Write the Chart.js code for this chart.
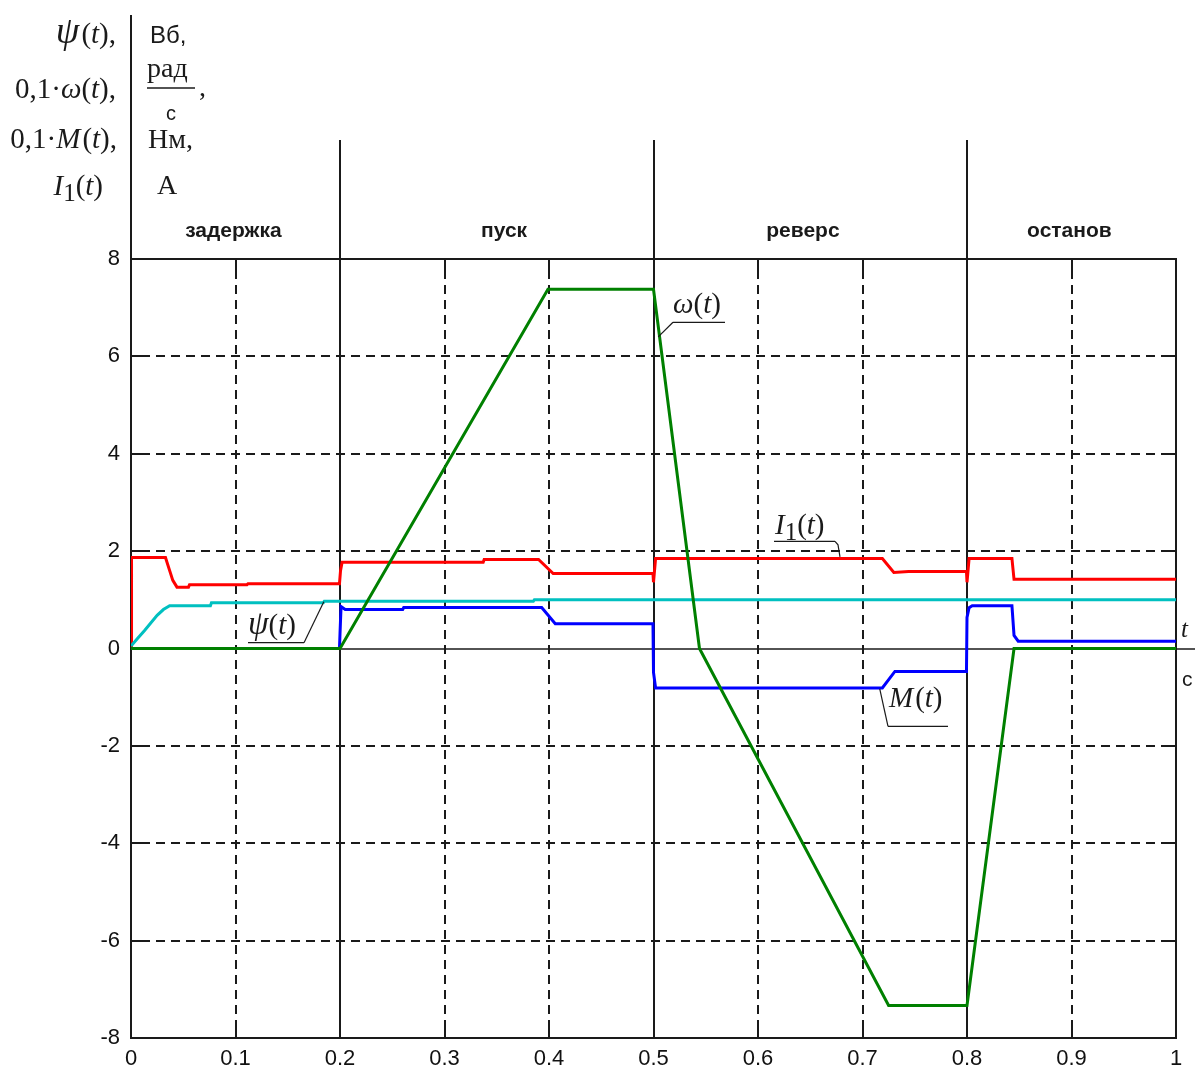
<!DOCTYPE html>
<html>
<head>
<meta charset="utf-8">
<script src="https://cdn.jsdelivr.net/npm/chart.js@4/dist/chart.umd.min.js"></script>
<style>
  html, body { margin: 0; padding: 0; background: #fff; }
  canvas { display: block; }
</style>
</head>
<body>
<canvas id="c" width="1195" height="1072"></canvas>
<script>
// Axis ticks
const xTicks = [0, 0.1, 0.2, 0.3, 0.4, 0.5, 0.6, 0.7, 0.8, 0.9, 1];
const yTicks = [-8, -6, -4, -2, 0, 2, 4, 6, 8];
// Boundaries of the operating stages (solid vertical lines)
const stageEdges = [0.2, 0.5, 0.8];
const stageNames = ['задержка', 'пуск', 'реверс', 'останов'];
const stageCentres = [0.098, 0.357, 0.643, 0.898];

// Flux linkage psi(t), Wb
const psiT = [0, 0.006, 0.013, 0.025, 0.031, 0.037, 0.076, 0.077, 0.184, 0.185, 0.385, 0.386, 1];
const psiV = [0.05, 0.2, 0.37, 0.68, 0.8, 0.88, 0.88, 0.94, 0.94, 0.97, 0.97, 1.0, 1.0];

// 0.1 * omega(t), rad/s
const omegaT = [0, 0.2, 0.399, 0.5, 0.544, 0.725, 0.8, 0.845, 1];
const omegaV = [0, 0, 7.38, 7.38, 0, -7.33, -7.33, 0, 0];

// 0.1 * M(t), N*m
const torqueT = [0, 0.1995, 0.2, 0.201, 0.205, 0.26, 0.261, 0.393, 0.406, 0.4995, 0.5, 0.502, 0.719, 0.731, 0.7995, 0.8, 0.802, 0.805, 0.843, 0.845, 0.849, 1];
const torqueV = [0, 0, 0.3, 0.86, 0.8, 0.8, 0.84, 0.84, 0.51, 0.51, -0.49, -0.81, -0.81, -0.47, -0.47, 0.64, 0.84, 0.88, 0.88, 0.27, 0.15, 0.15];

// Stator current I1(t), A
const currentT = [0, 0.0005, 0.033, 0.037, 0.04, 0.044, 0.055, 0.056, 0.111, 0.112, 0.1995, 0.2005, 0.202, 0.337, 0.338, 0.39, 0.404, 0.4995, 0.5, 0.502, 0.719, 0.73, 0.744, 0.7995, 0.8, 0.802, 0.843, 0.845, 1];
const currentV = [0, 1.87, 1.87, 1.6, 1.4, 1.26, 1.26, 1.31, 1.31, 1.33, 1.33, 1.6, 1.77, 1.77, 1.83, 1.83, 1.54, 1.54, 1.36, 1.85, 1.85, 1.56, 1.58, 1.58, 1.36, 1.85, 1.85, 1.42, 1.42];

const pts = (ts, vs) => ts.map((t, i) => ({ x: t, y: vs[i] }));

const INK = '#1a1a1a';
const SERIF = '"Liberation Serif", "Times New Roman", serif';
const SANS = '"Liberation Sans", Arial, sans-serif';

// Draws a run of differently styled text pieces on one baseline
function drawRich(ctx, parts, x, y, align) {
  let total = 0;
  parts.forEach(p => { ctx.font = p.f; total += ctx.measureText(p.t).width + (p.gap || 0); });
  let cx = align === 'right' ? x - total : x;
  ctx.textAlign = 'left';
  ctx.textBaseline = 'alphabetic';
  parts.forEach(p => {
    ctx.font = p.f;
    ctx.fillText(p.t, cx, y + (p.dy || 0));
    cx += ctx.measureText(p.t).width + (p.gap || 0);
  });
  return total;
}

function line(ctx, x0, y0, x1, y1) {
  ctx.beginPath(); ctx.moveTo(x0, y0); ctx.lineTo(x1, y1); ctx.stroke();
}

const gridPlugin = {
  id: 'mathGrid',
  beforeDatasetsDraw(chart) {
    const { ctx, chartArea: a, scales: { x, y } } = chart;
    ctx.save();
    ctx.strokeStyle = INK;
    ctx.lineWidth = 2;
    // dashed grid with short solid ticks at both ends
    xTicks.forEach(v => {
      if (v === 0 || v === 1 || stageEdges.includes(v)) return;
      const px = Math.round(x.getPixelForValue(v));
      ctx.setLineDash([]);
      line(ctx, px, a.bottom, px, a.bottom - 15);
      line(ctx, px, a.top, px, a.top + 11);
      ctx.setLineDash([9, 6]);
      line(ctx, px, a.top + 11, px, a.bottom - 15);
    });
    yTicks.forEach(v => {
      if (v === 0 || v === yTicks[0] || v === yTicks[yTicks.length - 1]) return;
      const py = Math.round(y.getPixelForValue(v));
      ctx.setLineDash([]);
      line(ctx, a.left, py, a.left + 10, py);
      line(ctx, a.right, py, a.right - 10, py);
      ctx.setLineDash([9, 6]);
      line(ctx, a.left + 10, py, a.right - 10, py);
    });
    ctx.setLineDash([]);
    // plot frame
    ctx.strokeRect(Math.round(a.left), Math.round(a.top), Math.round(a.right - a.left), Math.round(a.bottom - a.top));
    // left axis extends up through the label block
    const x0 = Math.round(x.getPixelForValue(0));
    line(ctx, x0, 15, x0, a.bottom);
    // stage boundaries rise above the plot
    stageEdges.forEach(v => {
      const px = Math.round(x.getPixelForValue(v));
      line(ctx, px, 140, px, a.bottom);
    });
    // zero line runs past the right edge
    ctx.lineWidth = 1.5;
    const y0 = Math.round(y.getPixelForValue(0));
    line(ctx, a.left, y0, chart.width, y0);
    ctx.restore();
  },
  afterDraw(chart) {
    const { ctx, scales: { x, y } } = chart;
    ctx.save();
    ctx.fillStyle = INK;
    ctx.strokeStyle = INK;

    // stage captions
    ctx.font = 'bold 21px ' + SANS;
    ctx.textAlign = 'center';
    ctx.textBaseline = 'middle';
    stageNames.forEach((s, i) => ctx.fillText(s, x.getPixelForValue(stageCentres[i]), 231));

    // quantity names, right aligned against the axis
    const R = 29;
    const up = `${R}px ${SERIF}`, it = `italic ${R}px ${SERIF}`;
    drawRich(ctx, [{ t: 'ψ', f: `italic 38px ${SERIF}`, gap: 2 }, { t: '(', f: up }, { t: 't', f: it }, { t: '),', f: up }], 116, 43, 'right');
    drawRich(ctx, [{ t: '0,1·', f: up }, { t: 'ω', f: it }, { t: '(', f: up }, { t: 't', f: it }, { t: '),', f: up }], 116, 98, 'right');
    drawRich(ctx, [{ t: '0,1·', f: up }, { t: 'M', f: it, gap: 2 }, { t: '(', f: up }, { t: 't', f: it }, { t: '),', f: up }], 117, 148, 'right');
    drawRich(ctx, [{ t: 'I', f: it }, { t: '1', f: `25px ${SERIF}`, dy: 6 }, { t: '(', f: up }, { t: 't', f: it }, { t: ')', f: up }], 103, 195, 'right');

    // units
    ctx.textAlign = 'left';
    ctx.textBaseline = 'alphabetic';
    ctx.font = `24px ${SANS}`;
    ctx.fillText('Вб,', 150, 43);
    ctx.font = `28px ${SERIF}`;
    ctx.fillText('рад', 147, 77);
    ctx.lineWidth = 1.5;
    line(ctx, 147, 88, 195, 88);
    ctx.fillText(',', 199, 96);
    ctx.font = `20px ${SANS}`;
    ctx.textAlign = 'center';
    ctx.fillText('с', 171, 120);
    ctx.textAlign = 'left';
    ctx.font = `28px ${SERIF}`;
    ctx.fillText('Нм,', 148, 148);
    ctx.fillText('А', 157, 194);

    // axis variable and unit at the right end of the zero line
    const y0 = y.getPixelForValue(0);
    ctx.font = `italic 25px ${SERIF}`;
    ctx.fillText('t', 1181, y0 - 12);
    ctx.font = `21px ${SANS}`;
    ctx.fillText('с', 1182, y0 + 37);

    // curve call-outs: text, underline and leader to the curve
    ctx.lineWidth = 1.2;
    const callout = (parts, tx, ty, ux0, ux1, uy, lead) => {
      drawRich(ctx, parts, tx, ty, 'left');
      ctx.beginPath();
      ctx.moveTo(ux1, uy); ctx.lineTo(ux0, uy);
      ctx.stroke();
      ctx.beginPath();
      ctx.moveTo(lead[0][0], lead[0][1]);
      for (let i = 1; i < lead.length; i++) ctx.lineTo(lead[i][0], lead[i][1]);
      ctx.stroke();
    };
    const px = v => x.getPixelForValue(v), py = v => y.getPixelForValue(v);
    // omega
    callout([{ t: 'ω', f: it }, { t: '(', f: up }, { t: 't', f: it }, { t: ')', f: up }],
      673, py(6.9), 673, 725, py(6.7), [[673, py(6.7)], [px(0.5045), py(6.4)]]);
    // I1
    callout([{ t: 'I', f: it }, { t: '1', f: `25px ${SERIF}`, dy: 6 }, { t: '(', f: up }, { t: 't', f: it }, { t: ')', f: up }],
      775, py(2.35), 774, 835, py(2.2), [[835, py(2.2)], [838, py(2.13)], [840, py(1.88)]]);
    // M
    callout([{ t: 'M', f: it, gap: 2 }, { t: '(', f: up }, { t: 't', f: it }, { t: ')', f: up }],
      889, py(-1.2), 888, 948, py(-1.6), [[888, py(-1.6)], [px(0.7165), py(-0.83)]]);
    // psi
    callout([{ t: 'ψ', f: `italic 33px ${SERIF}` }, { t: '(', f: up }, { t: 't', f: it }, { t: ')', f: up }],
      248, py(0.3), 248, 304, py(0.12), [[304, py(0.12)], [px(0.1845), py(0.96)]]);
    ctx.restore();
  }
};

new Chart(document.getElementById('c'), {
  type: 'line',
  data: {
    datasets: [
      { label: '0,1·ω(t)', data: pts(omegaT, omegaV), borderColor: '#008000' },
      { label: '0,1·M(t)', data: pts(torqueT, torqueV), borderColor: '#0000ff' },
      { label: 'ψ(t)', data: pts(psiT, psiV), borderColor: '#00c0c0' },
      { label: 'I1(t)', data: pts(currentT, currentV), borderColor: '#ff0000' }
    ]
  },
  options: {
    responsive: false,
    animation: false,
    parsing: false,
    events: [],
    elements: {
      line: { borderWidth: 3, tension: 0, fill: false },
      point: { radius: 0 }
    },
    layout: { padding: { left: 0, right: 19, top: 259, bottom: 0 } },
    plugins: { legend: { display: false }, tooltip: { enabled: false } },
    scales: {
      x: {
        type: 'linear',
        min: 0, max: 1,
        afterBuildTicks: s => { s.ticks = xTicks.map(v => ({ value: v })); },
        afterFit: s => { s.height = 34; },
        grid: { display: false, drawTicks: false },
        border: { display: false },
        ticks: {
          padding: 8,
          maxRotation: 0,
          autoSkip: false,
          color: '#111',
          font: { family: 'Liberation Sans', size: 22 },
          callback: v => String(Math.round(v * 10) / 10)
        }
      },
      y: {
        type: 'linear',
        min: -8, max: 8,
        afterBuildTicks: s => { s.ticks = yTicks.map(v => ({ value: v })); },
        afterFit: s => { s.width = 131; },
        grid: { display: false, drawTicks: false },
        border: { display: false },
        ticks: {
          padding: 11,
          autoSkip: false,
          color: '#111',
          font: { family: 'Liberation Sans', size: 22 },
          callback: v => String(v)
        }
      }
    }
  },
  plugins: [gridPlugin]
});
</script>
</body>
</html>
